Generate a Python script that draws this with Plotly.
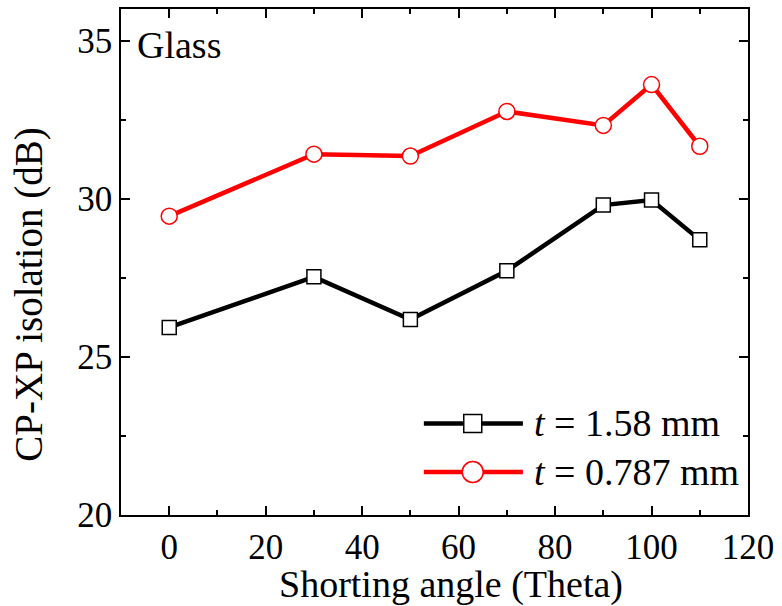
import plotly.graph_objects as go

# Shorting angle (degrees) and CP-XP isolation (dB) for two substrate thicknesses
angle = [0, 30, 50, 70, 90, 100, 110]
iso_158 = [25.93, 27.53, 26.18, 27.72, 29.80, 29.96, 28.70]
iso_0787 = [29.45, 31.41, 31.35, 32.76, 32.32, 33.61, 31.66]

series_names = ["<i>t</i> = 1.58 mm", "<i>t</i> = 0.787 mm"]
series_colors = ["black", "red"]

x_ticks = [0, 20, 40, 60, 80, 100, 120]
y_ticks = [20, 25, 30, 35]

FONT = "Liberation Serif, Times New Roman, serif"
PLOT_W, PLOT_H = 627, 508

fig = go.Figure()
fig.add_trace(go.Scatter(
    x=angle, y=iso_158, mode="lines+markers", name=series_names[0],
    line=dict(color=series_colors[0], width=4.5),
    marker=dict(symbol="square", size=14, color="white",
                line=dict(color=series_colors[0], width=1.5)),
))
fig.add_trace(go.Scatter(
    x=angle, y=iso_0787, mode="lines+markers", name=series_names[1],
    line=dict(color=series_colors[1], width=4.5),
    marker=dict(symbol="circle", size=16, color="white",
                line=dict(color=series_colors[1], width=1.5)),
))

axis_common = dict(
    showline=True, linecolor="black", linewidth=1.5, mirror="ticks",
    ticks="inside", ticklen=9, tickwidth=1.5, tickcolor="black",
    showgrid=False, zeroline=False,
    tickfont=dict(family=FONT, size=35, color="black"),
)

fig.update_xaxes(
    range=[-10, 120], tickvals=x_ticks,
    minor=dict(dtick=10, ticks="inside", ticklen=5, tickwidth=1.5, tickcolor="black"),
    **axis_common,
)
fig.update_yaxes(
    range=[20, 36], tickvals=y_ticks,
    minor=dict(dtick=2.5, ticks="inside", ticklen=5, tickwidth=1.5, tickcolor="black"),
    **axis_common,
)

# Axis titles
fig.add_annotation(
    text="Shorting angle (Theta)", x=0.526, y=-0.137, xref="paper", yref="paper",
    xanchor="center", yanchor="middle", showarrow=False,
    font=dict(family=FONT, size=38, color="black"),
)
fig.add_annotation(
    text="CP-XP isolation (dB)", x=-0.147, y=0.435, xref="paper", yref="paper",
    xanchor="center", yanchor="middle", showarrow=False, textangle=-90,
    font=dict(family=FONT, size=39, color="black"),
)

fig.add_annotation(
    text="Glass", x=0.022, y=0.928, xref="paper", yref="paper",
    xanchor="left", yanchor="middle", showarrow=False,
    font=dict(family=FONT, size=38, color="black"),
)

# Legend drawn in paper space: long line sample, hollow marker, label
legend_rows_y = [0.181, 0.085]
line_x0, line_x1, mark_x, text_x = 0.483, 0.641, 0.561, 0.655
for i, (name, col) in enumerate(zip(series_names, series_colors)):
    yy = legend_rows_y[i]
    fig.add_shape(type="line", xref="paper", yref="paper",
                  x0=line_x0, x1=line_x1, y0=yy, y1=yy,
                  line=dict(color=col, width=4.5))
    if i == 0:
        hw, hh = 9 / PLOT_W, 9 / PLOT_H
        fig.add_shape(type="rect", xref="paper", yref="paper",
                      x0=mark_x - hw, x1=mark_x + hw, y0=yy - hh, y1=yy + hh,
                      fillcolor="white", line=dict(color=col, width=1.5))
    else:
        rw, rh = 10.5 / PLOT_W, 10.5 / PLOT_H
        fig.add_shape(type="circle", xref="paper", yref="paper",
                      x0=mark_x - rw, x1=mark_x + rw, y0=yy - rh, y1=yy + rh,
                      fillcolor="white", line=dict(color=col, width=1.5))
    fig.add_annotation(text=name, x=text_x, y=yy, xref="paper", yref="paper",
                       xanchor="left", yanchor="middle", showarrow=False,
                       font=dict(family=FONT, size=38, color="black"))

fig.update_layout(
    width=782, height=606,
    margin=dict(l=121, r=34, t=7, b=91),
    paper_bgcolor="white", plot_bgcolor="white",
    showlegend=False,
)

fig.write_html("out.html")
